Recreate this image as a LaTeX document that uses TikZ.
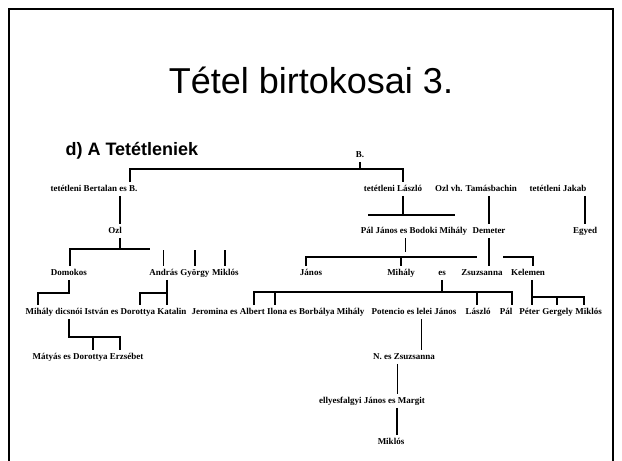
\documentclass[tikz,border=0pt]{standalone}
\usepackage{fontspec}
\setmainfont{Liberation Serif}
\newfontfamily\headfont{Liberation Sans}
\usetikzlibrary{positioning}
\newcommand\pfont{\fontsize{9}{10}\selectfont\bfseries}

\begin{document}
\begin{tikzpicture}[x=1pt, y=-1pt,
  person/.style={font=\pfont, inner xsep=1.1pt, inner ysep=2.5pt, text height=6.5pt, text depth=1.8pt},
  tline/.style={line width=1.6pt},
  thinline/.style={line width=0.8pt}]
  \useasboundingbox (0,0) rectangle (622,461);
  \draw[line width=2pt] (9,461) -- (9,9) -- (613,9) -- (613,461);

  \node[font=\headfont\fontsize{36}{40}\selectfont] (title) at (311,80) {Tétel birtokosai 3.};
  \node[font=\headfont\bfseries\fontsize{18}{22}\selectfont, anchor=west] (head) at (62,151) {d) A Tetétleniek};

  % generations
  \node[person] (B) at (360,155) {B.};

  \node[person] (Bert) at (94,189) {tetétleni Bertalan es B.};
  \node[person] (Las) at (393,189) {tetétleni László};
  \node[person] (OzlVh) at (476,189) {Ozl vh. Tamásbachin};
  \node[person] (Jakab) at (558,189) {tetétleni Jakab};

  \node[person] (Ozl) at (115,231) {Ozl};
  \node[person] (PalJ) at (414,231) {Pál János es Bodoki Mihály};
  \node[person] (Dem) at (489,231) {Demeter};
  \node[person] (Egyed) at (585,231) {Egyed};

  \node[person] (Dom) at (69,273) {Domokos};
  \node[person, anchor=west] (And) at (148,273) {András};
  \node[person, right=0pt of And] (Gyo) {György};
  \node[person, right=0pt of Gyo] (MikA) {Miklós};
  \node[person] (Jan) at (311,273) {János};
  \node[person] (MihB) at (401,273) {Mihály};
  \node[person] (es) at (442,273) {es};
  \node[person] (Zsu) at (482,273) {Zsuzsanna};
  \node[person] (Kel) at (528,273) {Kelemen};

  \node[person] (MihD) at (106,312) {Mihály dicsnói István es Dorottya Katalin};
  \node[person] (Jer) at (278,312) {Jeromina es Albert Ilona es Borbálya Mihály};
  \node[person] (Pot) at (414,312) {Potencio es lelei János};
  \node[person] (LasB) at (478,312) {László};
  \node[person] (Pal) at (506,312) {Pál};
  \node[person, anchor=west] (Pet) at (518,312) {Péter};
  \node[person, right=0pt of Pet] (Ger) {Gergely};
  \node[person, right=0pt of Ger] (MikB) {Miklós};

  \node[person] (Mat) at (88,357) {Mátyás es Dorottya Erzsébet};
  \node[person] (NZsu) at (404,357) {N. es Zsuzsanna};
  \node[person] (Elly) at (372,401) {ellyesfalgyi János es Margit};
  \node[person] (MikC) at (391,442) {Miklós};

  % junctions
  \coordinate (jB1) at (130,169);
  \coordinate (jB2) at (403,169);
  \coordinate (jO) at (120,249);
  \coordinate (jO1) at (70,249);
  \coordinate (jO2) at (150,249);
  \coordinate (jA) at (0,250);
  \coordinate (jD) at (38,293);
  \coordinate (jK1) at (140,293);
  \coordinate (jK2) at (167,293);
  \coordinate (jM1) at (69,337);
  \coordinate (jM2) at (93,337);
  \coordinate (jM3) at (120,337);
  \coordinate (jL1) at (368,215);
  \coordinate (jL2) at (455,215);
  \coordinate (jJ1) at (306,257);
  \coordinate (jJ2) at (477,257);
  \coordinate (jP) at (405,252);
  \coordinate (jKe1) at (503,257);
  \coordinate (jKe2) at (533,257);
  \coordinate (jR1) at (254,292);
  \coordinate (jR2) at (512,292);
  \coordinate (jR3) at (275,292);
  \coordinate (jR4) at (477,292);
  \coordinate (jC1) at (532,297);
  \coordinate (jC2) at (557,297);
  \coordinate (jC3) at (584,297);
  \coordinate (jN) at (421,340);
  \coordinate (jE) at (397,380);

  % lines
  \draw[tline] (B) -- (B |- jB1);
  \draw[tline] (Bert.north -| jB1) |- (jB2) -- (Las.north -| jB2);
  \draw[tline] (Bert.south -| jO) -- (Ozl.north -| jO);
  \draw[tline] (Ozl.south -| jO) -- (jO);
  \draw[tline] (Dom.north -| jO1) |- (jO2);
  \foreach \n in {And,Gyo,MikA}
    \draw[tline] (\n.north |- jA) -- (\n.north);
  \draw[tline] (Dom.south) |- (jD) -- (MihD.north -| jD);
  \draw[tline] (And.south -| jK2) -- (MihD.north -| jK2);
  \draw[tline] (jK2) -- (jK1) -- (MihD.north -| jK1);
  \draw[tline] (MihD.south -| jM1) -- (jM1) -- (jM3) -- (Mat.north -| jM3);
  \draw[tline] (jM2) -- (Mat.north -| jM2);

  \draw[tline] (Las.south -| jB2) -- (jB2 |- jL1);
  \draw[tline] (jL1) -- (jL2);
  \draw[thinline] (PalJ.south -| jP) -- (jP);
  \draw[tline] (Jan.north -| jJ1) |- (jJ2);
  \draw[tline] (MihB.north |- jJ1) -- (MihB.north);
  \draw[tline] (OzlVh.south -| Dem) -- (Dem.north);
  \draw[tline] (Dem.south) -- (Zsu.north -| Dem);
  \draw[tline] (jKe1) -- (jKe2) -- (Kel.north -| jKe2);
  \draw[tline] (Jakab.south -| Egyed) -- (Egyed.north);

  \draw[tline] (Jer.north -| jR1) |- (jR2) -- (Pal.north -| jR2);
  \draw[tline] (jR3) -- (Jer.north -| jR3);
  \draw[tline] (jR4) -- (LasB.north -| jR4);
  \draw[tline] (es.south) -- (es.south |- jR2);
  \draw[tline] (Kel.south -| jC1) -- (Pet.north -| jC1);
  \draw[tline] (jC1) -- (jC3) -- (MikB.north -| jC3);
  \draw[tline] (jC2) -- (Ger.north -| jC2);

  \draw[thinline] (Pot.south -| jN) -- (NZsu.north -| jN);
  \draw[thinline] (NZsu.south -| jE) -- (Elly.north -| jE);
  \draw[tline] (Elly.south -| jE) -- (MikC.north -| jE);
\end{tikzpicture}
\end{document}
